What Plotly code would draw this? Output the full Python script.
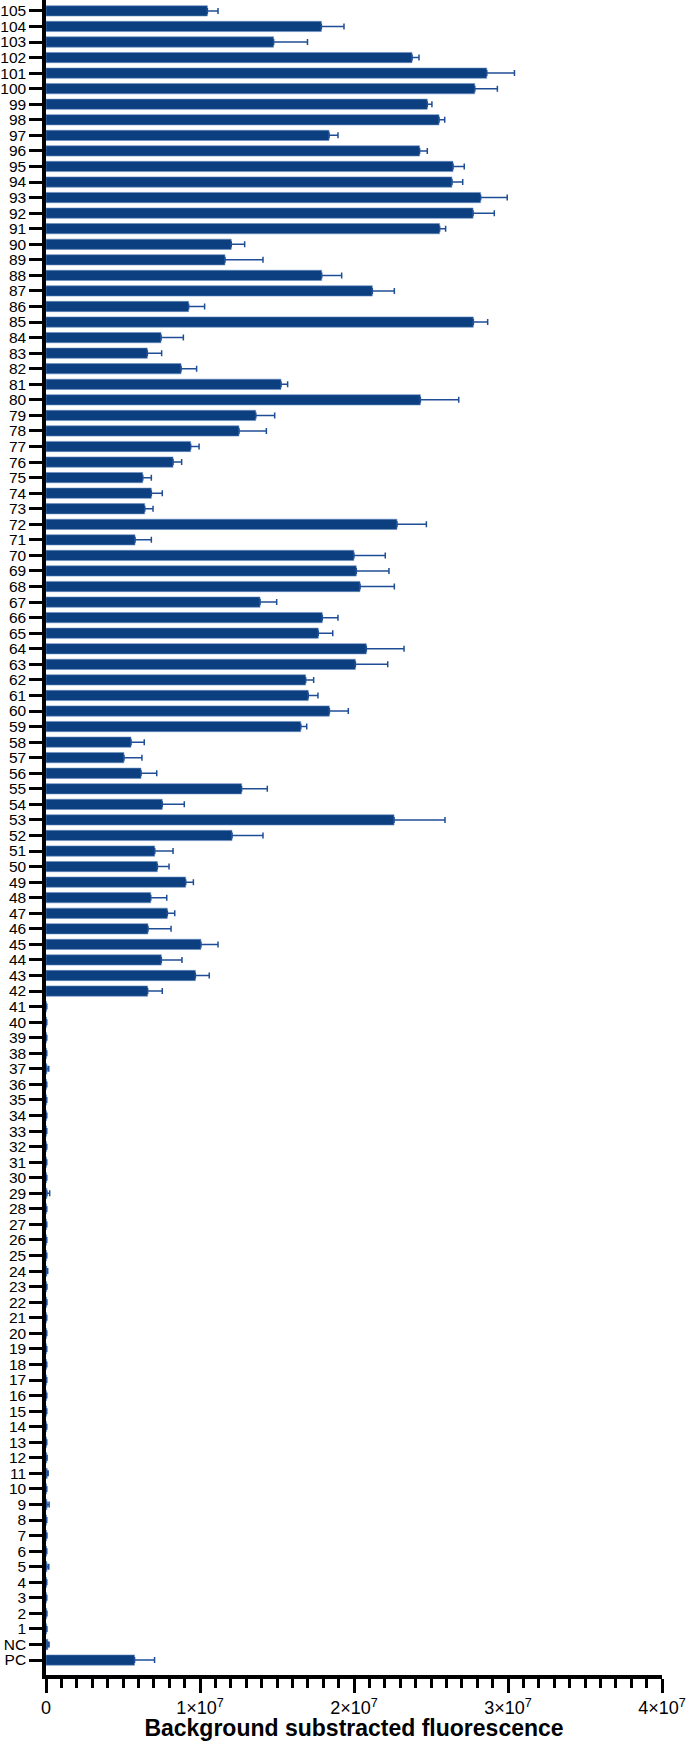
import plotly.graph_objects as go

# categories bottom -> top
labels = ["PC", "NC"] + [str(i) for i in range(1, 106)]

# bar heights (background substracted fluorescence)
values = [
    0.575e7, 0.012e7,
    # 1 - 41
    0.004e7, 0.004e7, 0.003e7, 0.003e7, 0.006e7, 0.003e7, 0.004e7, 0.003e7, 0.006e7, 0.003e7,
    0.008e7, 0.005e7, 0.003e7, 0.003e7, 0.003e7, 0.003e7, 0.003e7, 0.003e7, 0.003e7, 0.003e7,
    0.003e7, 0.004e7, 0.004e7, 0.006e7, 0.003e7, 0.003e7, 0.003e7, 0.003e7, 0.006e7, 0.003e7,
    0.003e7, 0.003e7, 0.003e7, 0.003e7, 0.003e7, 0.003e7, 0.006e7, 0.003e7, 0.003e7, 0.003e7,
    0.003e7,
    # 42 - 60
    0.660e7, 0.970e7, 0.749e7, 1.006e7, 0.662e7, 0.788e7, 0.680e7, 0.907e7, 0.723e7, 0.706e7,
    1.208e7, 2.260e7, 0.755e7, 1.270e7, 0.617e7, 0.506e7, 0.552e7, 1.654e7, 1.840e7,
    # 61 - 80
    1.703e7, 1.686e7, 2.009e7, 2.080e7, 1.768e7, 1.794e7, 1.390e7, 2.039e7, 2.015e7, 1.999e7,
    0.578e7, 2.279e7, 0.641e7, 0.684e7, 0.628e7, 0.825e7, 0.939e7, 1.253e7, 1.362e7, 2.431e7,
    # 81 - 105
    1.526e7, 0.877e7, 0.658e7, 0.747e7, 2.775e7, 0.926e7, 2.119e7, 1.790e7, 1.162e7, 1.203e7,
    2.556e7, 2.773e7, 2.822e7, 2.636e7, 2.643e7, 2.426e7, 1.838e7, 2.552e7, 2.476e7, 2.784e7,
    2.862e7, 2.377e7, 1.478e7, 1.788e7, 1.048e7,
]

# upper error (SD)
errors = [
    0.130e7, 0.008e7,
    # 1 - 41
    0.002e7, 0.002e7, 0.002e7, 0.002e7, 0.012e7, 0.002e7, 0.002e7, 0.002e7, 0.014e7, 0.002e7,
    0.006e7, 0.002e7, 0.002e7, 0.002e7, 0.002e7, 0.002e7, 0.002e7, 0.002e7, 0.002e7, 0.002e7,
    0.002e7, 0.002e7, 0.002e7, 0.005e7, 0.002e7, 0.002e7, 0.002e7, 0.002e7, 0.018e7, 0.002e7,
    0.002e7, 0.002e7, 0.002e7, 0.002e7, 0.002e7, 0.002e7, 0.012e7, 0.002e7, 0.002e7, 0.002e7,
    0.002e7,
    # 42 - 60
    0.095e7, 0.090e7, 0.134e7, 0.111e7, 0.150e7, 0.048e7, 0.104e7, 0.050e7, 0.076e7, 0.119e7,
    0.201e7, 0.331e7, 0.143e7, 0.167e7, 0.102e7, 0.117e7, 0.086e7, 0.039e7, 0.123e7,
    # 61 - 80
    0.063e7, 0.052e7, 0.210e7, 0.245e7, 0.094e7, 0.102e7, 0.108e7, 0.223e7, 0.212e7, 0.204e7,
    0.106e7, 0.191e7, 0.054e7, 0.071e7, 0.056e7, 0.056e7, 0.055e7, 0.178e7, 0.123e7, 0.249e7,
    # 81 - 105
    0.043e7, 0.101e7, 0.093e7, 0.145e7, 0.093e7, 0.104e7, 0.143e7, 0.130e7, 0.247e7, 0.087e7,
    0.039e7, 0.138e7, 0.173e7, 0.070e7, 0.073e7, 0.050e7, 0.058e7, 0.037e7, 0.030e7, 0.147e7,
    0.180e7, 0.045e7, 0.220e7, 0.147e7, 0.069e7,
]

x_tickvals = [0, 1e7, 2e7, 3e7, 4e7]
x_ticktext = ["0", "1×10<sup>7</sup>", "2×10<sup>7</sup>", "3×10<sup>7</sup>", "4×10<sup>7</sup>"]

font_family = "Arial, Liberation Sans, sans-serif"

fig = go.Figure()
fig.add_trace(go.Bar(
    x=values,
    y=labels,
    orientation="h",
    width=0.66,
    marker=dict(color="#0b3f7f", line=dict(color="#6a8fc4", width=0.6)),
    error_x=dict(type="data", array=errors, arrayminus=[0] * len(errors),
                 symmetric=False, color="#1f4e96", thickness=1.5, width=3),
))

fig.update_layout(
    width=694, height=1741,
    margin=dict(l=46, r=32, t=0, b=66),
    paper_bgcolor="white", plot_bgcolor="white",
    showlegend=False,
    font=dict(family=font_family, color="black"),
)

fig.update_yaxes(
    type="category",
    range=[-0.96, 106.7],
    tickmode="linear", tick0=0, dtick=1,
    showline=True, linecolor="black", linewidth=3.5,
    ticks="outside", ticklen=13, tickwidth=3, tickcolor="black",
    tickfont=dict(size=15.5, family=font_family),
    showgrid=False, zeroline=False,
    automargin=False,
)

fig.update_xaxes(
    range=[0, 4e7],
    showline=True, linecolor="black", linewidth=3.5,
    tickvals=x_tickvals, ticktext=x_ticktext,
    ticks="outside", ticklen=14, tickwidth=3, tickcolor="black",
    tickfont=dict(size=18, family=font_family),
    minor=dict(dtick=1e6, ticks="outside", ticklen=9, tickwidth=2.5, tickcolor="black", showgrid=False),
    showgrid=False, zeroline=False,
    title=dict(text="<b>Background substracted fluorescence</b>",
               font=dict(size=23, family=font_family), standoff=6),
    automargin=False,
)

# drop the default 8px body margin so the figure sits at the window origin
fig.write_html("out.html", config={"displayModeBar": False},
               post_script="document.body.style.margin = '0';")
